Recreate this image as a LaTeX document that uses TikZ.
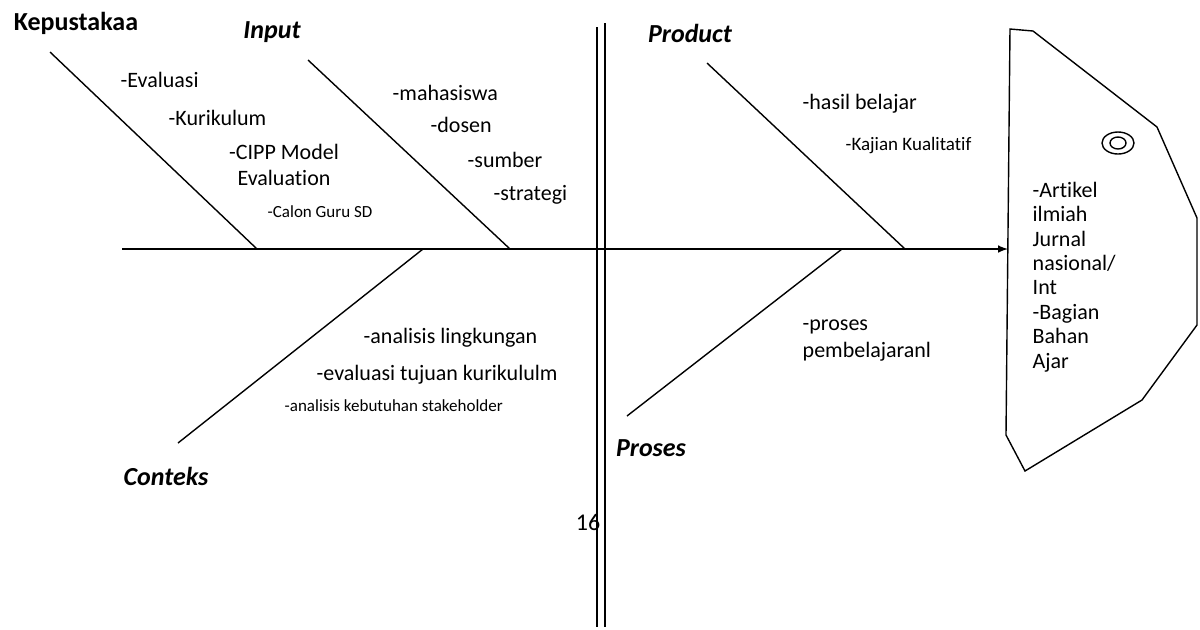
\documentclass[tikz,border=0pt]{standalone}
\usepackage{fontspec}
\setmainfont{Carlito}[Ligatures=NoCommon]
\begin{document}
\begin{tikzpicture}[>=latex,x=0.5pt,y=-0.5pt,line width=0.7pt,
	judul/.style={font=\fontsize{13}{15}\selectfont\bfseries\itshape},
	isi/.style={font=\fontsize{11}{13}\selectfont,anchor=west,inner sep=0pt},
	kecil/.style={font=\fontsize{8.5}{10}\selectfont,anchor=west,inner sep=0pt}]
	\useasboundingbox (0,0) rectangle (1200,629);
	% tulang utama
	\coordinate (ekor) at (122,249);
	\coordinate (mulut) at (1008,249);
	\draw[->] (ekor) -- (mulut);
	% tulang cabang
	\coordinate (K1) at (50,52);   \coordinate (K2) at (257,249);
	\coordinate (I1) at (308,60);  \coordinate (I2) at (510,249);
	\coordinate (P1) at (707,63);  \coordinate (P2) at (905,249);
	\coordinate (C1) at (178,443); \coordinate (C2) at (423,249);
	\coordinate (R1) at (627,416); \coordinate (R2) at (842,249);
	\draw (K1) -- (K2);
	\draw (I1) -- (I2);
	\draw (P1) -- (P2);
	\draw (C1) -- (C2);
	\draw (R1) -- (R2);
	% garis ganda
	\draw (597,27) -- (597,627);
	\draw (605,23) -- (605,627);
	% kepala ikan
	\draw (1010,29) -- (1033,31) -- (1157,127) -- (1197,218) -- (1197,325)
		-- (1142,400) -- (1025,471) -- (1006,435) -- cycle;
	\draw (1118,143) ellipse [x radius=16, y radius=11];
	\draw (1118,143) ellipse [x radius=8, y radius=6];
	% judul
	\node[font=\fontsize{13}{15}\selectfont\bfseries] (kepustakaa) at (76,23) {Kepustakaa};
	\node[judul] (input) at (272,32) {Input};
	\node[judul] (product) at (690,33) {Product};
	\node[judul] (conteks) at (166,476) {Conteks};
	\node[judul] (proses) at (651,448) {Proses};
	% isi
	\node[isi] (evaluasi) at (120,80) {-Evaluasi};
	\node[isi] (kurikulum) at (168,118) {-Kurikulum};
	\node[isi,anchor=center,align=center] (cipp) at (284,165) {-CIPP Model\\Evaluation};
	\node[kecil] (calon) at (267,212) {-Calon Guru SD};
	\node[isi] (mahasiswa) at (392,93) {-mahasiswa};
	\node[isi] (dosen) at (430,125) {-dosen};
	\node[isi] (sumber) at (467,160) {-sumber};
	\node[isi] (strategi) at (493,195) {-strategi};
	\node[isi] (hasil) at (802,104) {-hasil belajar};
	\node[isi,font=\fontsize{9.5}{11}\selectfont] (kajian) at (845,146) {-Kajian Kualitatif};
	\node[isi] (lingkungan) at (363,338) {-analisis lingkungan};
	\node[isi] (tujuan) at (316,375) {-evaluasi tujuan kurikululm};
	\node[kecil] (kebutuhan) at (284,406) {-analisis kebutuhan stakeholder};
	\node[isi,anchor=base west,align=left,font=\fontsize{11}{13.5}\selectfont] (pembelajaran) at (802,357) {-proses\\pembelajaranl};
	\node[isi,anchor=base west,align=left,font=\fontsize{11}{12.2}\selectfont] (artikel) at (1032,368)
		{-Artikel\\ilmiah\\Jurnal\\nasional/\\Int\\-Bagian\\Bahan\\Ajar};
	\node[font=\fontsize{12}{14}\selectfont] (halaman) at (588,522) {16};
\end{tikzpicture}
\end{document}
